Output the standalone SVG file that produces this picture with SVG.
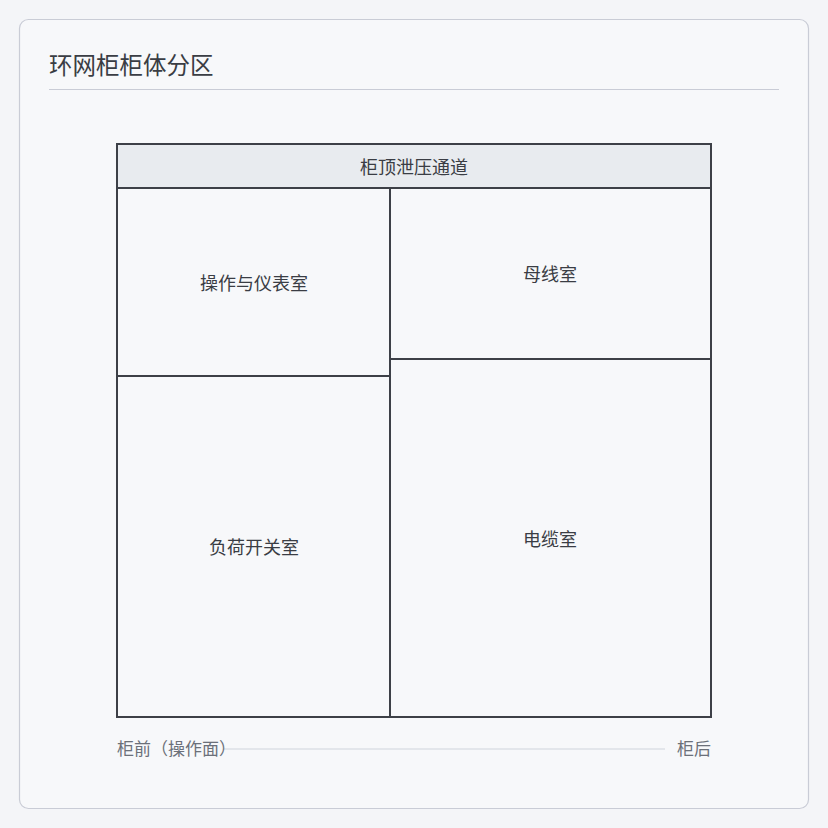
<svg xmlns="http://www.w3.org/2000/svg" width="828" height="828" viewBox="0 0 828 828">
<style>
.t{font-family:"Noto Sans CJK SC","Noto Sans",sans-serif;}
.lbl{font-size:18px;fill:#3a3d44;text-anchor:middle;dominant-baseline:central;}
.room{fill:#f7f8fa;stroke:#3d4047;stroke-width:2;}
.ax{font-size:17px;fill:#6b7079;}
</style>
<rect width="828" height="828" fill="#f4f5f8"/>
<rect x="19.5" y="19.5" width="789" height="789" rx="9" fill="#f7f8fa" stroke="#c9ccd6" stroke-width="1.2"/>
<text class="t" x="49" y="74" font-size="23.5" fill="#3a3d44">环网柜柜体分区</text>
<line x1="49" y1="89.5" x2="779" y2="89.5" stroke="#c9ccd6" stroke-width="1.2"/>
<g id="cabinet">
<rect class="room" x="117" y="144" width="594" height="573"/>
</g>
<g id="top-vent">
<rect x="117" y="144" width="594" height="44" fill="#e8ebef" stroke="#3d4047" stroke-width="2"/>
<text class="t lbl" x="414" y="166">柜顶泄压通道</text>
</g>
<g id="control-room">
<rect class="room" x="117" y="188" width="273" height="188"/>
<text class="t lbl" x="254" y="282">操作与仪表室</text>
</g>
<g id="switch-room">
<rect class="room" x="117" y="376" width="273" height="341"/>
<text class="t lbl" x="254" y="546">负荷开关室</text>
</g>
<g id="busbar-room">
<rect class="room" x="390" y="188" width="321" height="171"/>
<text class="t lbl" x="550" y="273">母线室</text>
</g>
<g id="cable-room">
<rect class="room" x="390" y="359" width="321" height="358"/>
<text class="t lbl" x="550" y="538">电缆室</text>
</g>
<g id="axis">
<line x1="224" y1="749" x2="665" y2="749" stroke="#cfd3db" stroke-width="1.2"/>
<text class="t ax" x="117" y="755">柜前（操作面）</text>
<text class="t ax" x="711" y="755" text-anchor="end">柜后</text>
</g>
</svg>
